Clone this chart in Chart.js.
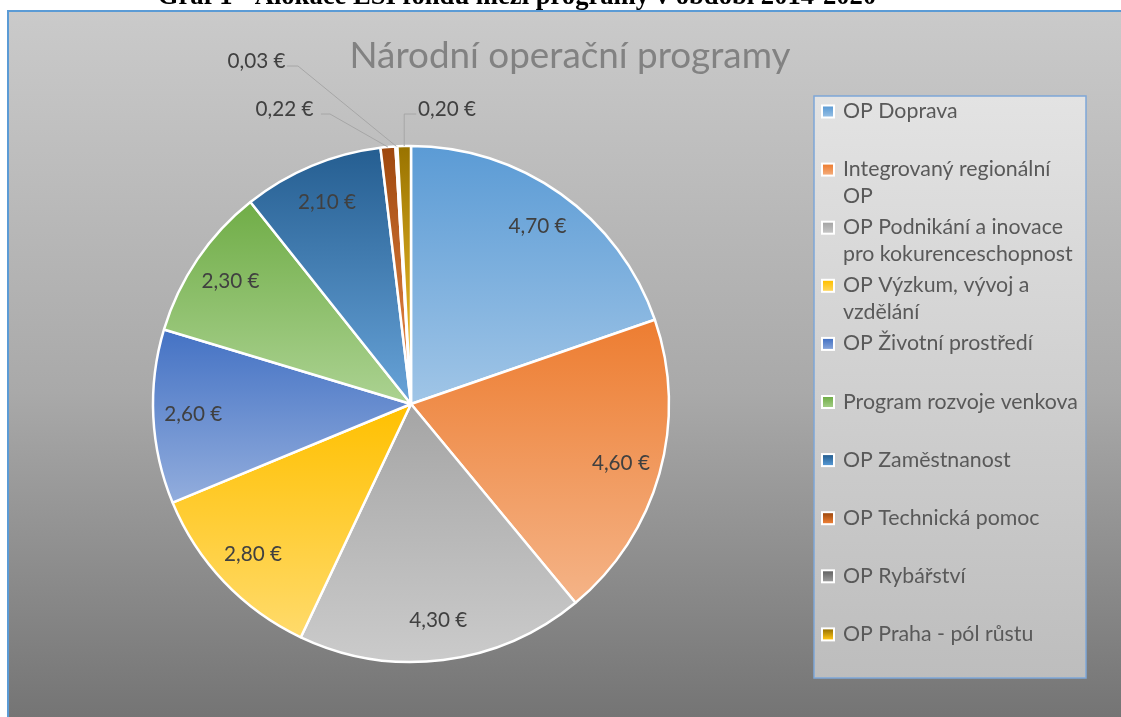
<!DOCTYPE html>
<html><head><meta charset="utf-8">
<script src="https://cdn.jsdelivr.net/npm/chart.js@4"></script>
<style>
html,body{margin:0;padding:0;background:#fff;width:1121px;height:717px;overflow:hidden;}
#frame{position:absolute;left:7px;top:10px;width:1200px;height:800px;border:2px solid #5b9bd5;box-sizing:border-box;
  background:linear-gradient(to bottom,#cacaca 0px,#a9a9a9 380px,#747474 707px);}
canvas{position:absolute;left:0;top:0;}
</style></head><body>
<div id="frame"></div>
<canvas id="c" width="1121" height="717"></canvas>
<script>
// ---- data ----
const caption = "Graf 1 - Alokace ESI fondů mezi programy v období 2014-2020";
const chartTitle = "Národní operační programy";
const categories = [
  ["OP Doprava"],
  ["Integrovaný regionální", "OP"],
  ["OP Podnikání a inovace", "pro kokurenceschopnost"],
  ["OP Výzkum, vývoj a", "vzdělání"],
  ["OP Životní prostředí"],
  ["Program rozvoje venkova"],
  ["OP Zaměstnanost"],
  ["OP Technická pomoc"],
  ["OP Rybářství"],
  ["OP Praha - pól růstu"]
];
const values = [4.70, 4.60, 4.30, 2.80, 2.60, 2.30, 2.10, 0.22, 0.03, 0.20];
const colors = ["#5B9BD5","#ED7D31","#A5A5A5","#FFC000","#4472C4","#70AD47","#255E91","#9E480E","#636363","#997300"];

// ---- helpers ----
function fmt(v){ return v.toFixed(2).replace('.', ',') + '\u00a0€'; }
function tint(hex, t){
  const n = parseInt(hex.slice(1),16);
  let r=((n>>16)&255)/255, g=((n>>8)&255)/255, b=(n&255)/255;
  const max=Math.max(r,g,b), min=Math.min(r,g,b);
  let h=0, s=0, l=(max+min)/2;
  if (max!==min){
    const d=max-min;
    s = l>0.5 ? d/(2-max-min) : d/(max+min);
    if (max===r) h=(g-b)/d+(g<b?6:0); else if (max===g) h=(b-r)/d+2; else h=(r-g)/d+4;
    h/=6;
  }
  l = l + (1-l)*t;
  return `hsl(${(h*360).toFixed(1)},${(s*100).toFixed(1)}%,${(l*100).toFixed(1)}%)`;
}
function fitSize(ctx, text, font, target){
  ctx.font = font.replace('SIZE','100px');
  return 100*target/ctx.measureText(text).width;
}
const FAM = "Lato, 'Open Sans', sans-serif";

// callout placements for small slices (relative to centre, in radius units)
const callouts = {
  7: {tx:-0.378, ty:-1.143, align:'right', ex:-0.314, ey:-1.124, sx:-0.349},
  8: {tx:-0.486, ty:-1.329, align:'right', ex:-0.438, ey:-1.310, sx:-0.481},
  9: {tx: 0.027, ty:-1.143, align:'left',  ex:-0.027, ey:-1.124, sx: 0.020}
};

const deco = {
  id:'deco',
  beforeDatasetsDraw(chart){
    const ctx = chart.ctx;
    // caption (cut off at top)
    ctx.save();
    const cs = fitSize(ctx, caption, "bold SIZE 'Liberation Serif', serif", 719);
    ctx.font = `bold ${cs}px 'Liberation Serif', serif`;
    ctx.fillStyle = '#000'; ctx.textAlign='center'; ctx.textBaseline='alphabetic';
    ctx.fillText(caption, 517, 4);
    ctx.restore();

    const meta = chart.getDatasetMeta(0);
    meta.data.forEach((arc,i)=>{
      const {x,y,startAngle,endAngle,outerRadius} = arc;
      const ys=[y, y+Math.sin(startAngle)*outerRadius, y+Math.sin(endAngle)*outerRadius];
      for (const a of [-Math.PI/2, Math.PI/2, 3*Math.PI/2]) if (a>=startAngle && a<=endAngle) ys.push(y+Math.sin(a)*outerRadius);
      const g = ctx.createLinearGradient(0, Math.min(...ys), 0, Math.max(...ys));
      g.addColorStop(0, colors[i]);
      g.addColorStop(1, tint(colors[i], 0.42));
      arc.options = Object.assign({}, arc.options, {backgroundColor:g});
    });
  },
  afterDatasetsDraw(chart){
    const ctx = chart.ctx;
    const meta = chart.getDatasetMeta(0);
    ctx.save();
    // title
    const ts = fitSize(ctx, chartTitle, `SIZE ${FAM}`, 441);
    ctx.font = `${ts}px ${FAM}`;
    ctx.fillStyle = '#828282'; ctx.textAlign='center'; ctx.textBaseline='alphabetic';
    ctx.fillText(chartTitle, 570, 68);

    // data labels
    const ls = fitSize(ctx, fmt(values[0]), `SIZE ${FAM}`, 58);
    ctx.font = `${ls}px ${FAM}`;
    ctx.fillStyle = '#404040'; ctx.textBaseline='middle';
    meta.data.forEach((arc,i)=>{
      const {x,y,startAngle,endAngle,outerRadius:r} = arc;
      const mid = (startAngle+endAngle)/2;
      const txt = fmt(values[i]);
      const c = callouts[i];
      if (!c){
        ctx.textAlign='center';
        ctx.fillText(txt, x+Math.cos(mid)*r*0.845, y+Math.sin(mid)*r*0.845);
      } else {
        const px = x+Math.cos(mid)*r, py = y+Math.sin(mid)*r;
        ctx.strokeStyle='#a6a6a6'; ctx.lineWidth=1;
        ctx.beginPath();
        if (c.align==='left'){
          ctx.moveTo(px, py); ctx.lineTo(px, y+c.ey*r); ctx.lineTo(x+c.sx*r, y+c.ey*r);
        } else {
          ctx.moveTo(px, py); ctx.lineTo(x+c.ex*r, y+c.ey*r); ctx.lineTo(x+c.sx*r, y+c.ey*r);
        }
        ctx.stroke();
        ctx.textAlign = c.align;
        ctx.fillText(txt, x+c.tx*r, y+c.ty*r);
      }
    });

    // legend
    const L = {x:814, y:96, w:272, h:582};
    const lg = ctx.createLinearGradient(0, L.y, 0, L.y+L.h);
    lg.addColorStop(0,'#e3e3e3'); lg.addColorStop(1,'#bdbdbd');
    ctx.fillStyle = lg; ctx.fillRect(L.x, L.y, L.w, L.h);
    ctx.strokeStyle = '#7ea7d8'; ctx.lineWidth = 1.5;
    ctx.strokeRect(L.x, L.y, L.w, L.h);
    const fs = fitSize(ctx, categories[5][0], `SIZE ${FAM}`, 235);
    ctx.font = `${fs}px ${FAM}`;
    ctx.textAlign='left'; ctx.textBaseline='alphabetic';
    categories.forEach((lines,i)=>{
      const base = 118 + 58.1*i;
      const my = base - 6.5;
      ctx.fillStyle = '#ffffff'; ctx.fillRect(821, my-7, 14, 14);
      const mg = ctx.createLinearGradient(0, my-5, 0, my+5);
      mg.addColorStop(0, colors[i]); mg.addColorStop(1, tint(colors[i], 0.35));
      ctx.fillStyle = mg; ctx.fillRect(823, my-5, 10, 10);
      ctx.fillStyle = '#595959';
      lines.forEach((t,k)=> ctx.fillText(t, 843, base + 27*k));
    });
    ctx.restore();
  }
};

new Chart(document.getElementById('c'), {
  type:'pie',
  data:{ labels: categories, datasets:[{ data: values, backgroundColor: colors, borderColor:'#ffffff', borderWidth:2.5, radius:258 }] },
  options:{
    responsive:false, animation:false, events:[],
    layout:{ padding:{ left:10, right:309, top:100, bottom:9 } },
    plugins:{ legend:{display:false}, tooltip:{enabled:false}, title:{display:false} }
  },
  plugins:[deco]
});
</script>
</body></html>
